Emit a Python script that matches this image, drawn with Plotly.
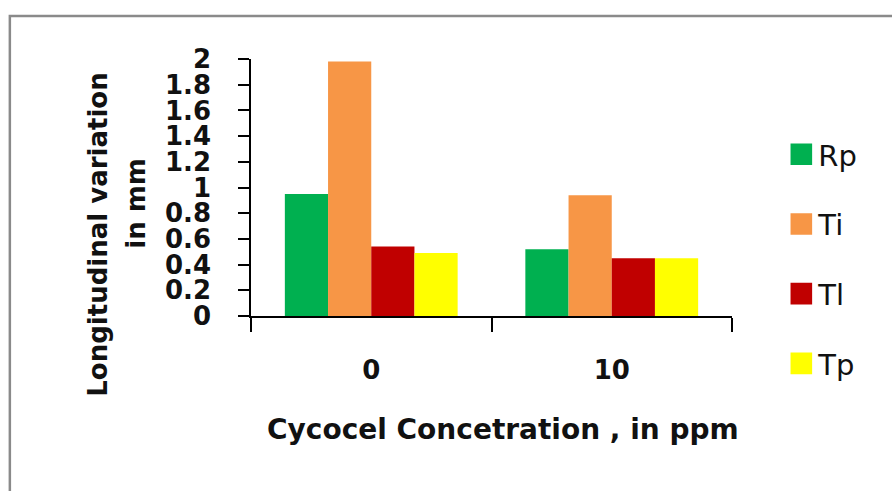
import plotly.graph_objects as go

categories = ["0", "10"]
series_names = ["Rp", "Ti", "Tl", "Tp"]
rp_values = [0.95, 0.52]
ti_values = [1.98, 0.94]
tl_values = [0.54, 0.45]
tp_values = [0.49, 0.45]
y_ticks = [0, 0.2, 0.4, 0.6, 0.8, 1, 1.2, 1.4, 1.6, 1.8, 2]

colors = ["#00B050", "#F79646", "#C00000", "#FFFF00"]
values = [rp_values, ti_values, tl_values, tp_values]

W, H = 892, 491
L, R, T, B = 251, 892 - 731.7, 59, 491 - 316.3
pw = W - L - R
ph = H - T - B


def px(x):
    return (x - L) / pw


def py(y):
    return (H - B - y) / ph


FONT = "DejaVu Sans"
TXT = "#111"

fig = go.Figure()
for i, (name, vals) in enumerate(zip(series_names, values)):
    fig.add_trace(go.Bar(
        x=categories, y=vals, name=name,
        marker=dict(color=colors[i], line=dict(width=0)),
        legendgroup=name,
    ))

fig.update_layout(
    width=W, height=H,
    margin=dict(l=L, r=R, t=T, b=B, pad=0),
    paper_bgcolor="white", plot_bgcolor="white",
    barmode="group", bargap=0.2815, bargroupgap=0,
    showlegend=True,
    legend=dict(
        x=px(778), y=py(129), xanchor="left", yanchor="top",
        font=dict(family=FONT, size=29, color=TXT),
        tracegroupgap=29, traceorder="grouped",
        bgcolor="rgba(0,0,0,0)", maxheight=460,
    ),
    xaxis=dict(
        type="category", range=[-0.5, 1.5],
        showline=True, linecolor="black", linewidth=1.5,
        ticks="outside", ticklen=14, tickwidth=1.5, tickcolor="black",
        tickson="boundaries", showgrid=False, zeroline=False,
        tickfont=dict(family=FONT, size=26, color=TXT, weight="bold"),
        ticklabelstandoff=30,
    ),
    yaxis=dict(
        range=[0, 2], tickvals=y_ticks,
        ticktext=[f"{v:g}" for v in y_ticks],
        showline=True, linecolor="black", linewidth=1.5,
        ticks="outside", ticklen=11, tickwidth=1.5, tickcolor="black",
        showgrid=False, zeroline=False,
        tickfont=dict(family=FONT, size=26, color=TXT, weight="bold"),
        ticklabelstandoff=22,
    ),
    annotations=[
        dict(text="Cycocel Concetration , in ppm", xref="paper", yref="paper",
             x=px(502.5), y=py(430), xanchor="center", yanchor="middle",
             showarrow=False, font=dict(family=FONT, size=28, color=TXT, weight="bold")),
        dict(text="Longitudinal variation", xref="paper", yref="paper",
             x=px(98), y=py(235), xanchor="center", yanchor="middle", textangle=-90,
             showarrow=False, font=dict(family=FONT, size=26, color=TXT, weight="bold")),
        dict(text="in mm", xref="paper", yref="paper",
             x=px(136), y=py(203), xanchor="center", yanchor="middle", textangle=-90,
             showarrow=False, font=dict(family=FONT, size=26, color=TXT, weight="bold")),
    ],
    shapes=[
        dict(type="rect", xref="paper", yref="paper",
             x0=px(10), x1=px(900), y0=py(500), y1=py(16),
             line=dict(color="#8a8a8a", width=2.5), fillcolor="rgba(0,0,0,0)", layer="below"),
    ],
)

post = """
var gd = document.getElementById('{plot_id}');
function fixIcons(){
  gd.querySelectorAll('.legendpoints path').forEach(function(p){
    if (p.dataset.orig === undefined) { p.dataset.orig = p.getAttribute('transform') || ''; }
    p.setAttribute('transform', p.dataset.orig + ' translate(3,0) scale(1.8)');
  });
}
fixIcons();
if (gd.on) { gd.on('plotly_afterplot', fixIcons); }
setTimeout(fixIcons, 50);
"""

fig.write_html("out.html", post_script=post)
